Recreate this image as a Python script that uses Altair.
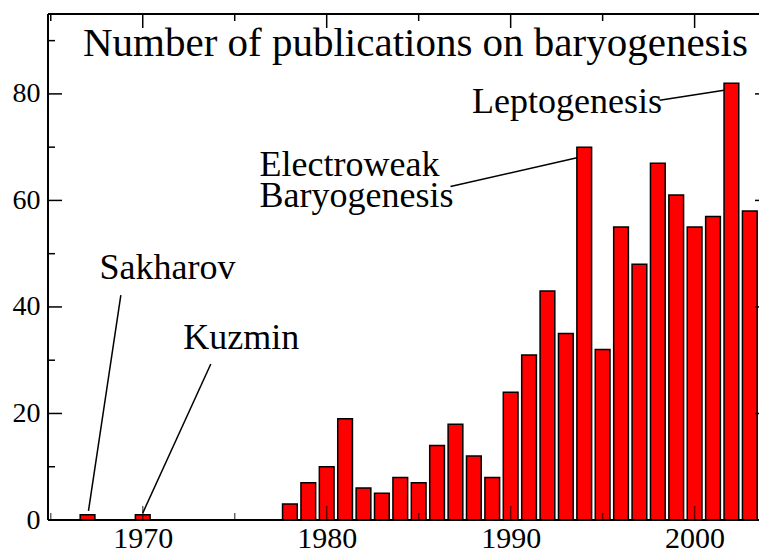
import altair as alt
import pandas as pd

# ---- data ----
years = [1967, 1970, 1978, 1979, 1980, 1981, 1982, 1983, 1984, 1985, 1986, 1987, 1988,
         1989, 1990, 1991, 1992, 1993, 1994, 1995, 1996, 1997, 1998, 1999, 2000, 2001,
         2002, 2003]
counts = [1, 1, 3, 7, 10, 19, 6, 5, 8, 7, 14, 18, 12,
          8, 24, 31, 43, 35, 70, 32, 55, 48, 67, 61, 55, 57,
          82, 58]

x_major = [1970, 1980, 1990, 2000]
x_minor = [1965, 1975, 1985, 1995]
y_major = [0, 20, 40, 60, 80]
y_minor = [10, 30, 50, 70, 90]

title_text = ["Number of publications on baryogenesis"]
title_x = [1966.75]
title_y = [87.2]

ann_labels = ["Sakharov", "Kuzmin", "Electroweak", "Baryogenesis", "Leptogenesis"]
ann_x = [1967.65, 1972.2, 1976.35, 1976.35, 1987.9]
ann_y = [45.2, 32.1, 64.6, 58.8, 76.5]

line_x1 = [1968.81, 1973.7, 1986.73, 1998.1]
line_y1 = [42.2, 29.3, 62.6, 78.8]
line_x2 = [1967.05, 1970.0, 1993.61, 2001.6]
line_y2 = [1.7, 1.3, 68.0, 80.7]

# ---- layout ----
W, H = 711, 506
FONT = "Liberation Serif"
xs = alt.Scale(domain=[1964.85, 2003.5], nice=False, zero=False, padding=0)
ys = alt.Scale(domain=[0, 95], nice=False, zero=False, padding=0)

xaxis = alt.Axis(values=x_major, format="d", title=None, ticks=False, domain=False,
                 grid=False, labelFont=FONT, labelFontSize=30, labelColor="black",
                 labelPadding=3, labelFlush=False, labelOverlap=False)
yaxis = alt.Axis(values=y_major, title=None, ticks=False, domain=False, grid=False,
                 labelFont=FONT, labelFontSize=28, labelColor="black",
                 labelPadding=8, labelFlush=False, labelOverlap=False)

df_bars = pd.DataFrame({"year": years, "count": counts})
df_xmaj = pd.DataFrame({"v": x_major})
df_xmin = pd.DataFrame({"v": x_minor})
df_ymaj = pd.DataFrame({"v": y_major})
df_ymin = pd.DataFrame({"v": y_minor})
df_title = pd.DataFrame({"label": title_text, "x": title_x, "y": title_y})
df_ann = pd.DataFrame({"label": ann_labels, "x": ann_x, "y": ann_y})
df_lines = pd.DataFrame({"x1": line_x1, "y1": line_y1, "x2": line_x2, "y2": line_y2})
one = pd.DataFrame({"a": [0]})

bars = alt.Chart(df_bars).transform_calculate(
    x0="datum.year - 0.4", x1="datum.year + 0.4", base="0"
).mark_rect(fill="#ff0000", stroke="black", strokeWidth=1.5, clip=True).encode(
    x=alt.X("x0:Q", scale=xs, axis=xaxis),
    x2="x1:Q",
    y=alt.Y("count:Q", scale=ys, axis=yaxis),
    y2="base:Q",
)


def xticks(df, length, top):
    if top:
        return alt.Chart(df).mark_rule(color="black", strokeWidth=1.5).encode(
            x=alt.X("v:Q", scale=xs, axis=xaxis), y=alt.value(0), y2=alt.value(length))
    return alt.Chart(df).mark_rule(color="black", strokeWidth=1.5, opacity=0.6).encode(
        x=alt.X("v:Q", scale=xs, axis=xaxis), y=alt.value(H), y2=alt.value(H - length))


def yticks(df, length, right):
    if right:
        return alt.Chart(df).mark_rule(color="black", strokeWidth=1.5).encode(
            y=alt.Y("v:Q", scale=ys, axis=yaxis), x=alt.value(W - length), x2=alt.value(W))
    return alt.Chart(df).mark_rule(color="black", strokeWidth=1.5).encode(
        y=alt.Y("v:Q", scale=ys, axis=yaxis), x=alt.value(0), x2=alt.value(length))


tick_layers = [
    xticks(df_xmaj, 14, False), xticks(df_xmin, 7, False),
    xticks(df_xmaj, 14, True), xticks(df_xmin, 7, True),
    yticks(df_ymaj, 14, False), yticks(df_ymin, 7, False),
    yticks(df_ymaj, 4, True),
]

frame_left = alt.Chart(one).mark_rule(color="black", strokeWidth=2).encode(
    x=alt.value(0), y=alt.value(0), y2=alt.value(H))
frame_top = alt.Chart(one).mark_rule(color="black", strokeWidth=2).encode(
    x=alt.value(0), x2=alt.value(W), y=alt.value(0))
frame_bottom = alt.Chart(one).mark_rule(color="black", strokeWidth=2).encode(
    x=alt.value(0), x2=alt.value(W), y=alt.value(H))

title = alt.Chart(df_title).mark_text(
    font=FONT, fontSize=41, align="left", baseline="alphabetic", color="black"
).encode(x=alt.X("x:Q", scale=xs, axis=xaxis), y=alt.Y("y:Q", scale=ys, axis=yaxis),
         text="label:N")

ann = alt.Chart(df_ann).mark_text(
    font=FONT, fontSize=36, align="left", baseline="alphabetic", color="black"
).encode(x=alt.X("x:Q", scale=xs, axis=xaxis), y=alt.Y("y:Q", scale=ys, axis=yaxis),
         text="label:N")

lines = alt.Chart(df_lines).mark_rule(color="black", strokeWidth=1.5).encode(
    x=alt.X("x1:Q", scale=xs, axis=xaxis), y=alt.Y("y1:Q", scale=ys, axis=yaxis),
    x2="x2:Q", y2="y2:Q")

chart = alt.layer(
    bars, *tick_layers, frame_left, frame_top, frame_bottom, title, ann, lines
).properties(
    width=W, height=H,
    padding={"left": 40, "top": 6, "right": 0, "bottom": 34},
    autosize=alt.AutoSizeParams(type="none"),
    background="white",
).configure_view(stroke=None)

chart.save("out.html", embed_options={"renderer": "svg", "actions": False})
